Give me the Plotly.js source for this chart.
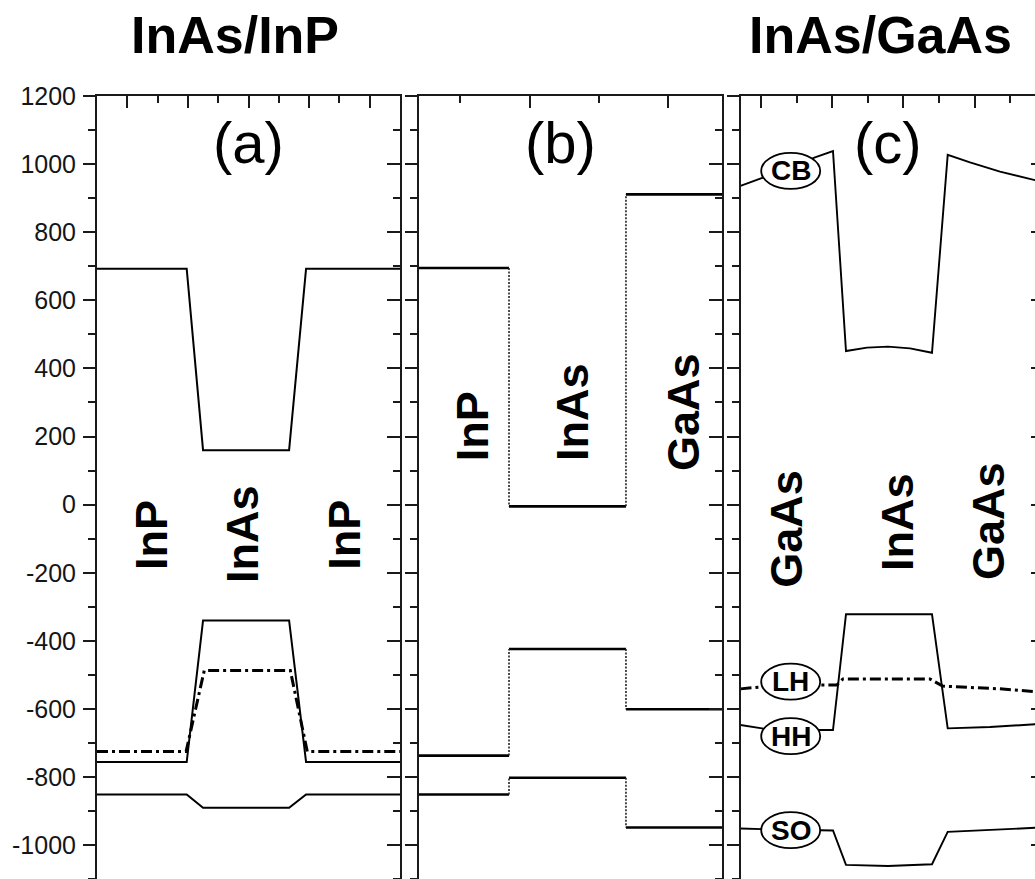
<!DOCTYPE html>
<html>
<head>
<meta charset="utf-8">
<script src="https://cdn.plot.ly/plotly-3.0.1.min.js"></script>
<style>
html,body{margin:0;padding:0;overflow:hidden;background:#fff;}
#chart{width:1060px;height:900px;}
</style>
</head>
<body>
<div id="chart"></div>
<script>
// ---------- DATA ----------
// Y ticks
const yTickVals = [-1000,-800,-600,-400,-200,0,200,400,600,800,1000,1200];
const yTickText = ["-1000","-800","-600","-400","-200","0","200","400","600","800","1000","1200"];

// Panel (a) InAs/InP (x in nm-like units, -25..25)
const aX   = [-25, -10.2, -7.5, 6.7, 9.5, 25];
const aCB  = [693, 693, 160, 160, 693, 693];
const aHH  = [-756, -756, -340, -340, -756, -756];
const aLHX = [-25, -10.3, -7.3, 6.9, 9.7, 25];
const aLH  = [-725, -725, -487, -487, -725, -725];
const aSO  = [-851, -851, -890, -890, -851, -851];

// Panel (b) unstrained band offsets: InP | InAs | GaAs
const bBounds = [-0.59, 0.705, 2.388, 3.77];
const bCB = [695, -5, 911];
const bHH = [-737, -424, -601];
const bSO = [-851, -802, -948];

// Panel (c) InAs/GaAs strained profiles
const cCBX = [-0.576, 0.028, 0.834, 1.517, 2.022, 2.387, 2.977, 3.567, 4.185, 4.803, 5.244, 5.871, 6.713, 7.696, 7.935];
const cCB  = [936, 960, 990, 1020, 1038, 451, 461, 464, 459, 446, 1027, 1005, 978, 953, 947];
const cHHX = [-0.576, 0.028, 1.517, 2.022, 2.387, 4.803, 5.244, 6.432, 7.696, 7.935];
const cHH  = [-647, -657, -662, -662, -322, -322, -657, -653, -645, -643];
const cLHX = [-0.576, 0.028, 1.657, 2.126, 2.30, 4.747, 5.10, 6.713, 7.696, 7.935];
const cLH  = [-541, -535, -530, -530, -512, -512, -533, -541, -549, -551];
const cSOX = [-0.576, 0.028, 1.657, 2.022, 2.387, 3.567, 4.803, 5.244, 7.696, 7.935];
const cSO  = [-951, -953, -956, -957, -1058, -1061, -1056, -961, -949, -948];

// Band labels in panel (c)
const bandLabels = ["CB", "LH", "HH", "SO"];
const bandLabelY = [980, -520, -680, -956];
const bandLabelX = 0.834;

// Region labels
const aRegions = ["InP", "InAs", "InP"];
const aRegionX = [-15.9, -0.9, 15.9];
const aRegionY = [-89, -86, -89];
const bRegions = ["InP", "InAs", "GaAs"];
const bRegionX = [0.173, 1.611, 3.209];
const bRegionY = [230, 272, 272];
const cRegions = ["GaAs", "InAs", "GaAs"];
const cRegionX = [0.73, 3.82, 6.404];
const cRegionY = [-71, -51, -48];

const panelTags = ["(a)", "(b)", "(c)"];
const panelTagX = [0, 1.453, 3.567];
const panelTagY = 1063;

const topTitles = ["InAs/InP", "InAs/GaAs"];

// ---------- LAYOUT HELPERS ----------
const W = 1060, H = 900, TOP = 96;
const FONT = "Liberation Sans, Arial, Helvetica, sans-serif";
const AX = '#1a1a1a';
const px = v => v / W;
const yRange = [-1161, 1200];

function segs(bounds, vals) {
  const x = [], y = [];
  for (let i = 0; i < vals.length; i++) {
    if (i) { x.push(null); y.push(null); }
    x.push(bounds[i], bounds[i+1]); y.push(vals[i], vals[i]);
  }
  return {x, y};
}
function steps(bounds, vals) {
  const x = [], y = [];
  for (let i = 1; i < vals.length; i++) {
    if (i > 1) { x.push(null); y.push(null); }
    x.push(bounds[i], bounds[i]); y.push(vals[i-1], vals[i]);
  }
  return {x, y};
}

const solid = (w) => ({color:'#000', width:w});
const dashdot = {color:'#000', width:3, dash:'11px,4px,3px,4px'};

const traces = [];
// panel a
traces.push({x:aX, y:aCB, mode:'lines', line:solid(2), xaxis:'x', yaxis:'y'});
traces.push({x:aX, y:aHH, mode:'lines', line:solid(2), xaxis:'x', yaxis:'y'});
traces.push({x:aLHX, y:aLH, mode:'lines', line:dashdot, xaxis:'x', yaxis:'y'});
traces.push({x:aX, y:aSO, mode:'lines', line:solid(2), xaxis:'x', yaxis:'y'});
// panel b
[bCB, bHH, bSO].forEach(v => {
  const s = segs(bBounds, v);
  traces.push({x:s.x, y:s.y, mode:'lines', line:solid(2.6), xaxis:'x2', yaxis:'y2'});
  const d = steps(bBounds, v);
  traces.push({x:d.x, y:d.y, mode:'lines', line:{color:'#222', width:1.6, dash:'2px,1.5px'}, xaxis:'x2', yaxis:'y2'});
});
// panel c
traces.push({x:cCBX, y:cCB, mode:'lines', line:solid(1.9), xaxis:'x3', yaxis:'y3'});
traces.push({x:cHHX, y:cHH, mode:'lines', line:solid(1.9), xaxis:'x3', yaxis:'y3'});
traces.push({x:cLHX, y:cLH, mode:'lines', line:dashdot, xaxis:'x3', yaxis:'y3'});
traces.push({x:cSOX, y:cSO, mode:'lines', line:solid(1.9), xaxis:'x3', yaxis:'y3'});
// empty traces for mirror axes
traces.push({x:[], y:[], xaxis:'x', yaxis:'y4', hoverinfo:'skip'});
traces.push({x:[], y:[], xaxis:'x2', yaxis:'y5', hoverinfo:'skip'});
traces.push({x:[], y:[], xaxis:'x3', yaxis:'y6', hoverinfo:'skip'});

function xAx(domain, range, tick0, dtick, mdtick, yname) {
  return {domain, range, anchor:yname, side:'top', ticks:'inside', ticklen:12, tickwidth:2, tickcolor:AX,
    tickmode:'linear', tick0, dtick, showticklabels:false, showline:true, mirror:true, linewidth:2, linecolor:AX,
    showgrid:false, zeroline:false, fixedrange:true,
    minor:{tick0, dtick:mdtick, ticks:'inside', ticklen:7, tickwidth:2, tickcolor:AX, showgrid:false}};
}
function yLeft(anchor, labels) {
  return {anchor, range:yRange, side:'left', ticks:'outside', ticklen:12, tickwidth:2, tickcolor:AX,
    tickmode:'array', tickvals:yTickVals, ticktext:yTickText, showticklabels:labels, ticklabelstandoff:2,
    tickfont:{family:FONT, size:25, color:'#151515'},
    showline:true, linewidth:2, linecolor:AX, mirror:false, showgrid:false, zeroline:false, fixedrange:true,
    minor:{tick0:0, dtick:100, ticks:'outside', ticklen:7, tickwidth:2, tickcolor:AX, showgrid:false}};
}
function yRight(anchor, over) {
  return {anchor, overlaying:over, range:yRange, side:'right', ticks:'inside', ticklen:13, tickwidth:2, tickcolor:AX,
    tickmode:'array', tickvals:yTickVals, showticklabels:false,
    showline:true, linewidth:2, linecolor:AX, showgrid:false, zeroline:false, fixedrange:true,
    minor:{tick0:0, dtick:100, ticks:'inside', ticklen:7, tickwidth:2, tickcolor:AX, showgrid:false}};
}

const annotations = [];
const shapes = [];
topTitles.forEach((t, i) => {
  const cx = [235, 880][i];
  annotations.push({text:t, xref:'paper', yref:'paper', x:px(cx), y:1 + (TOP - 35) / (H - TOP),
    xanchor:'center', yanchor:'middle', showarrow:false,
    font:{family:FONT, size:52, color:'#000', weight:'bold'}});
});
const axPairs = [['x','y'],['x2','y2'],['x3','y3']];
panelTags.forEach((t, i) => {
  annotations.push({text:t, xref:axPairs[i][0], yref:axPairs[i][1], x:panelTagX[i], y:panelTagY,
    xanchor:'center', yanchor:'middle', showarrow:false, font:{family:FONT, size:58, color:'#000'}});
});
function regionLabels(names, xs, ys, k) {
  names.forEach((t, i) => {
    annotations.push({text:t, xref:axPairs[k][0], yref:axPairs[k][1], x:xs[i], y:ys[i], textangle:-90,
      xanchor:'center', yanchor:'middle', showarrow:false,
      font:{family:FONT, size:45, color:'#000', weight:'bold'}});
  });
}
regionLabels(aRegions, aRegionX, aRegionY, 0);
regionLabels(bRegions, bRegionX, bRegionY, 1);
regionLabels(cRegions, cRegionX, cRegionY, 2);
bandLabels.forEach((t, i) => {
  shapes.push({type:'circle', xref:'x3', yref:'y3', xsizemode:'pixel', ysizemode:'pixel',
    xanchor:bandLabelX, yanchor:bandLabelY[i], x0:-29.5, x1:29.5, y0:-18, y1:18,
    fillcolor:'#fff', line:{color:'#000', width:1.8}, layer:'above'});
  annotations.push({text:t, xref:'x3', yref:'y3', x:bandLabelX, y:bandLabelY[i], xanchor:'center', yanchor:'middle',
    showarrow:false, font:{family:FONT, size:28, color:'#000', weight:'bold'}});
});

const layout = {
  width:W, height:H, margin:{l:0, r:0, t:TOP, b:0}, showlegend:false,
  paper_bgcolor:'#fff', plot_bgcolor:'#fff',
  xaxis:  xAx([px(97), px(400)], [-25, 25], 0, 10, 5, 'y'),
  xaxis2: xAx([px(419), px(722)], [-0.59, 3.77], 1, 2, 1, 'y2'),
  xaxis3: xAx([px(740.5), px(1043.5)], [-0.576, 7.935], 0, 2, 1, 'y3'),
  yaxis:  yLeft('x', true),
  yaxis2: yLeft('x2', false),
  yaxis3: yLeft('x3', false),
  yaxis4: yRight('x', 'y'),
  yaxis5: yRight('x2', 'y2'),
  yaxis6: yRight('x3', 'y3'),
  annotations, shapes
};
Plotly.newPlot('chart', traces, layout, {staticPlot:true, displayModeBar:false});
</script>
</body>
</html>
